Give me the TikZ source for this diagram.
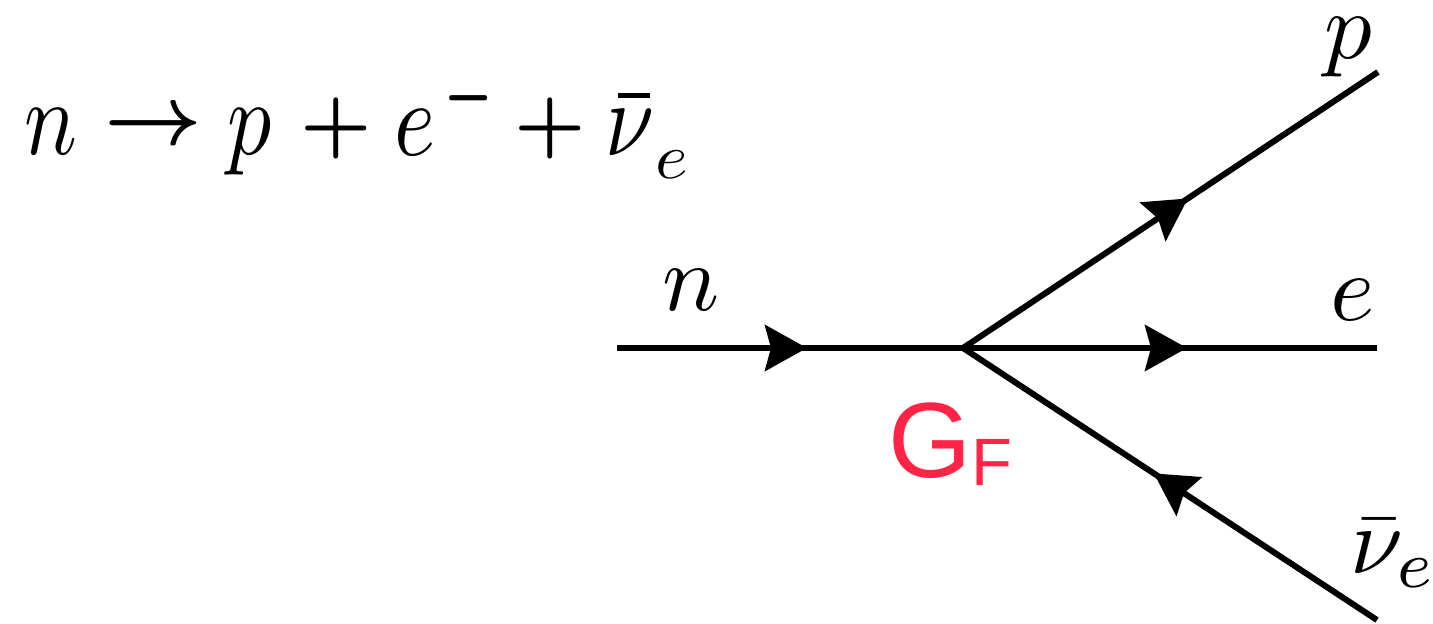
\documentclass[tikz,border=0pt]{standalone}
\usepackage{fontspec}
\usepackage{graphicx}
\usetikzlibrary{arrows.meta,decorations.markings}
\newfontfamily\arl{Liberation Sans}
\definecolor{gfred}{RGB}{255,35,70}
\newcommand{\eqlt}[1]{\scalebox{8.8}[10.6]{$#1$}}
\newcommand{\eqsb}[1]{\scalebox{7}[6.4]{$#1$}}
\tikzset{
  prop/.style={line width=6pt},
  fermion/.style={prop, postaction={decorate}, decoration={markings,
     mark=at position #1 with {\arrow{Stealth[length=42pt,width=46pt,inset=6pt]}}}},
  lbl/.style={inner sep=0pt, outer sep=0pt},
  eqlet/.style={lbl, anchor=base},
}
\begin{document}
\begin{tikzpicture}[x=1pt,y=-1pt]
\useasboundingbox (0,0) rectangle (1433,624);
% equation  n -> p + e^- + \bar\nu_e
\node[eqlet] (en) at (51,154) {\eqlt{n}};
\node[lbl] (earr) at (153,128) {\scalebox{8.5}{\boldmath$\rightarrow$}};
\node[eqlet] (ep) at (250,154) {\eqlt{p}};
\node[lbl] (epl1) at (336,128) {\scalebox{8}{\boldmath$+$}};
\node[eqlet] (ee) at (415,155) {\eqlt{e}};
\node[lbl] (emin) at (469,98) {\scalebox{5.4}[8.5]{\boldmath$-$}};
\node[lbl] (epl2) at (550,128) {\scalebox{8}{\boldmath$+$}};
\node[eqlet] (enu) at (630,155) {\eqlt{\nu}};
\node[lbl] (ebar) at (634,95.5) {\rule{32pt}{5pt}};
\node[eqlet] (esub) at (672,178) {\eqsb{e}};
% vertices
\coordinate (in) at (617,348);
\coordinate (v) at (963,348);
\coordinate (pe) at (1378,72);
\coordinate (ee2) at (1377,348);
\coordinate (ne) at (1377,620);
\draw[fermion=0.549] (in) -- (v);
\draw[fermion=0.542] (v) -- (pe);
\draw[fermion=0.541] (v) -- (ee2);
\draw[fermion=0.539] (ne) -- (v);
% labels
\node[lbl] (ln) at (691,290) {\scalebox{9.5}{$n$}};
\node[lbl] (lp) at (1348,47) {\scalebox{9.5}{$p$}};
\node[lbl] (le) at (1353,300) {\scalebox{9.5}{$e$}};
\node[lbl, anchor=base west] (lnu) at (1350,573) {\scalebox{9.5}{$\bar\nu_e$}};
\node[lbl, anchor=base west, text=gfred] (gf) at (888,477) {\arl\fontsize{107}{110}\selectfont G\raisebox{-8pt}{\fontsize{67}{70}\selectfont F}};
\end{tikzpicture}
\end{document}
